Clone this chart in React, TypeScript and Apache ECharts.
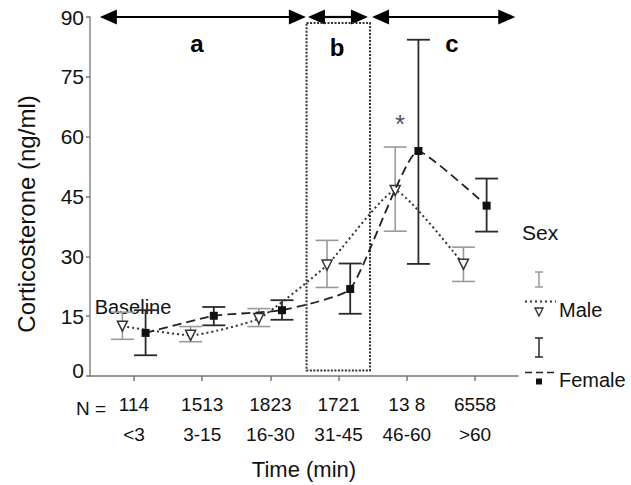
import React, { useEffect, useRef } from "react";
import * as echarts from "echarts";

const positions = [1, 2, 3, 4, 5, 6];
const nLabels = ["114", "1513", "1823", "1721", "13 8", "6558"];
const timeLabels = ["<3", "3-15", "16-30", "31-45", "46-60", ">60"];

const maleMean = [12.5, 10.2, 14.4, 27.8, 46.5, 28.0];
const maleUpper = [16.0, 12.4, 16.9, 34.0, 57.4, 32.3];
const maleLower = [9.2, 8.6, 12.4, 22.2, 36.3, 23.7];

const femaleMean = [10.8, 15.1, 16.5, 21.8, 56.4, 42.7];
const femaleUpper = [16.5, 17.3, 19.0, 28.2, 84.3, 49.5];
const femaleLower = [5.2, 12.7, 14.1, 15.6, 28.1, 36.2];

const sexOffset = 0.17;

// phase spans on the time axis
const phases = [
  { name: "a", from: 0.5, to: 3.52 },
  { name: "b", from: 3.55, to: 4.43 },
  { name: "c", from: 4.49, to: 6.59 },
];
const phaseLevel = 90;
const boxSpan = [3.53, 4.46, 1.4, 88.5];
const starPoint = [4.9, 63.2];

const FONT = "Liberation Sans, Arial, Helvetica, sans-serif";
const TXT = "#111";

export default function App() {
  const ref = useRef<HTMLDivElement>(null);
  useEffect(() => {
    if (!ref.current) return;
    const chart = echarts.init(ref.current, null, { renderer: "svg" });

    const maleX = positions.map((p) => p - sexOffset);
    const femaleX = positions.map((p) => p + sexOffset);

    const errRender = (color: string, width: number) => (params: any, api: any) => {
      const x = api.value(0);
      const lo = api.coord([x, api.value(1)]);
      const hi = api.coord([x, api.value(2)]);
      const hw = 11.5;
      const style = { stroke: color, lineWidth: width };
      return {
        type: "group",
        children: [
          { type: "line", shape: { x1: lo[0], y1: lo[1], x2: hi[0], y2: hi[1] }, style },
          { type: "line", shape: { x1: hi[0] - hw, y1: hi[1], x2: hi[0] + hw, y2: hi[1] }, style },
          { type: "line", shape: { x1: lo[0] - hw, y1: lo[1], x2: lo[0] + hw, y2: lo[1] }, style },
        ],
      };
    };

    const option: any = {
      animation: false,
      backgroundColor: "#fff",
      grid: { left: 90, right: 113, top: 17, bottom: 96, containLabel: false },
      xAxis: {
        type: "value",
        min: 0.355,
        max: 6.63,
        name: "Time (min)",
        nameLocation: "middle",
        nameGap: 82,
        nameTextStyle: { fontFamily: FONT, fontSize: 22, color: TXT },
        splitLine: { show: false },
        axisLine: { show: true, lineStyle: { color: "#777", width: 1.5 } },
        axisTick: { show: true, customValues: positions, length: 5, lineStyle: { color: "#777", width: 1.5 } },
        axisLabel: {
          customValues: positions,
          margin: 13,
          fontFamily: FONT,
          fontSize: 19,
          lineHeight: 30,
          color: TXT,
          formatter: (v: number) => {
            const i = Math.round(v) - 1;
            return nLabels[i] + "\n" + timeLabels[i];
          },
        },
      },
      yAxis: {
        type: "value",
        min: 0,
        max: 90,
        interval: 15,
        splitLine: { show: false },
        axisLine: { show: true, lineStyle: { color: "#888", width: 1.5 } },
        axisTick: { show: true, length: 4, lineStyle: { color: "#777", width: 1.5 } },
        axisLabel: {
          margin: 6,
          fontFamily: FONT,
          fontSize: 21,
          color: TXT,
          formatter: (v: number) => (v === 0 ? "{z|0}" : String(v)),
          rich: { z: { fontFamily: FONT, fontSize: 21, color: TXT, padding: [0, 0, 11, 0] } },
        },
      },
      series: [
        {
          type: "custom",
          name: "phases",
          clip: false,
          z: 1,
          data: phases.map((p) => [p.from, p.to, phaseLevel]),
          renderItem: (params: any, api: any) => {
            const a = api.coord([api.value(0), api.value(2)]);
            const b = api.coord([api.value(1), api.value(2)]);
            const L = 17;
            const H = 7.5;
            const y = a[1];
            return {
              type: "group",
              children: [
                { type: "line", shape: { x1: a[0] + L - 2, y1: y, x2: b[0] - L + 2, y2: y }, style: { stroke: "#000", lineWidth: 2.2 } },
                { type: "polygon", shape: { points: [[a[0], y], [a[0] + L, y - H], [a[0] + L, y + H]] }, style: { fill: "#000" } },
                { type: "polygon", shape: { points: [[b[0], y], [b[0] - L, y - H], [b[0] - L, y + H]] }, style: { fill: "#000" } },
              ],
            };
          },
        },
        {
          type: "custom",
          name: "box",
          clip: false,
          z: 1,
          data: [boxSpan],
          renderItem: (params: any, api: any) => {
            const p1 = api.coord([api.value(0), api.value(3)]);
            const p2 = api.coord([api.value(1), api.value(2)]);
            return {
              type: "rect",
              shape: { x: p1[0], y: p1[1], width: p2[0] - p1[0], height: p2[1] - p1[1] },
              style: { fill: "none", stroke: "#333", lineWidth: 2, lineDash: [2, 1.5] },
            };
          },
        },
        {
          type: "custom",
          name: "maleErr",
          z: 2,
          data: maleX.map((x, i) => [x, maleLower[i], maleUpper[i]]),
          renderItem: errRender("#9a9a9a", 1.6),
        },
        {
          type: "custom",
          name: "femaleErr",
          z: 2,
          data: femaleX.map((x, i) => [x, femaleLower[i], femaleUpper[i]]),
          renderItem: errRender("#2a2a2a", 1.8),
        },
        {
          type: "line",
          name: "Male",
          z: 3,
          smooth: 0.15,
          data: maleX.map((x, i) => [x, maleMean[i]]),
          lineStyle: { color: "#333", width: 2, type: [2, 3] },
          symbol: "triangle",
          symbolRotate: 180,
          symbolSize: 10,
          itemStyle: { color: "#fff", borderColor: "#333", borderWidth: 1.5 },
        },
        {
          type: "line",
          name: "Female",
          z: 4,
          smooth: 0.15,
          data: femaleX.map((x, i) => [x, femaleMean[i]]),
          lineStyle: { color: "#222", width: 1.8, type: [9, 5] },
          symbol: "rect",
          symbolSize: 8,
          itemStyle: { color: "#111" },
        },
        {
          type: "scatter",
          name: "star",
          z: 5,
          data: [starPoint],
          symbolSize: 0,
          label: {
            show: true,
            formatter: "*",
            position: "inside",
            fontFamily: FONT,
            fontSize: 26,
            color: "#222",
          },
        },
      ],
      graphic: [
        { type: "text", x: 26, y: 214, rotation: Math.PI / 2, style: { text: "Corticosterone (ng/ml)", fontFamily: FONT, fontSize: 24, fill: TXT, align: "center", verticalAlign: "middle" } },
        { type: "text", x: 76, y: 408, style: { text: "N =", fontFamily: FONT, fontSize: 19, fill: TXT, verticalAlign: "middle" } },
        { type: "text", x: 133, y: 307, style: { text: "Baseline", fontFamily: FONT, fontSize: 20, fill: TXT, align: "center", verticalAlign: "middle" } },
        { type: "text", x: 197, y: 43, style: { text: "a", fontFamily: FONT, fontSize: 24, fontWeight: "bold", fill: "#000", align: "center", verticalAlign: "middle" } },
        { type: "text", x: 337, y: 47, style: { text: "b", fontFamily: FONT, fontSize: 24, fontWeight: "bold", fill: "#000", align: "center", verticalAlign: "middle" } },
        { type: "text", x: 452, y: 43, style: { text: "c", fontFamily: FONT, fontSize: 24, fontWeight: "bold", fill: "#000", align: "center", verticalAlign: "middle" } },
        // legend
        { type: "text", x: 522, y: 232, style: { text: "Sex", fontFamily: FONT, fontSize: 21, fill: TXT, verticalAlign: "middle" } },
        { type: "line", shape: { x1: 539, y1: 272, x2: 539, y2: 287 }, style: { stroke: "#9a9a9a", lineWidth: 1.5 } },
        { type: "line", shape: { x1: 535, y1: 272, x2: 543, y2: 272 }, style: { stroke: "#9a9a9a", lineWidth: 1.5 } },
        { type: "line", shape: { x1: 535, y1: 287, x2: 543, y2: 287 }, style: { stroke: "#9a9a9a", lineWidth: 1.5 } },
        { type: "line", shape: { x1: 525, y1: 301.5, x2: 556, y2: 301.5 }, style: { stroke: "#333", lineWidth: 1.8, lineDash: [2, 3] } },
        { type: "polygon", shape: { points: [[535, 308], [543, 308], [539, 316]] }, style: { fill: "#fff", stroke: "#333", lineWidth: 1.4 } },
        { type: "text", x: 559, y: 310, style: { text: "Male", fontFamily: FONT, fontSize: 20, fill: TXT, verticalAlign: "middle" } },
        { type: "line", shape: { x1: 539, y1: 338, x2: 539, y2: 357 }, style: { stroke: "#333", lineWidth: 1.6 } },
        { type: "line", shape: { x1: 535, y1: 338, x2: 543, y2: 338 }, style: { stroke: "#333", lineWidth: 1.6 } },
        { type: "line", shape: { x1: 535, y1: 357, x2: 543, y2: 357 }, style: { stroke: "#333", lineWidth: 1.6 } },
        { type: "line", shape: { x1: 525, y1: 372.5, x2: 556, y2: 372.5 }, style: { stroke: "#222", lineWidth: 1.6, lineDash: [7, 4] } },
        { type: "rect", shape: { x: 536, y: 378.5, width: 6, height: 6 }, style: { fill: "#111" } },
        { type: "text", x: 559, y: 380, style: { text: "Female", fontFamily: FONT, fontSize: 20, fill: TXT, verticalAlign: "middle" } },
      ],
    };

    chart.setOption(option);
    return () => chart.dispose();
  }, []);

  return <div ref={ref} style={{ width: 631, height: 485, position: "absolute", left: 0, top: 0, background: "#fff" }} />;
}
